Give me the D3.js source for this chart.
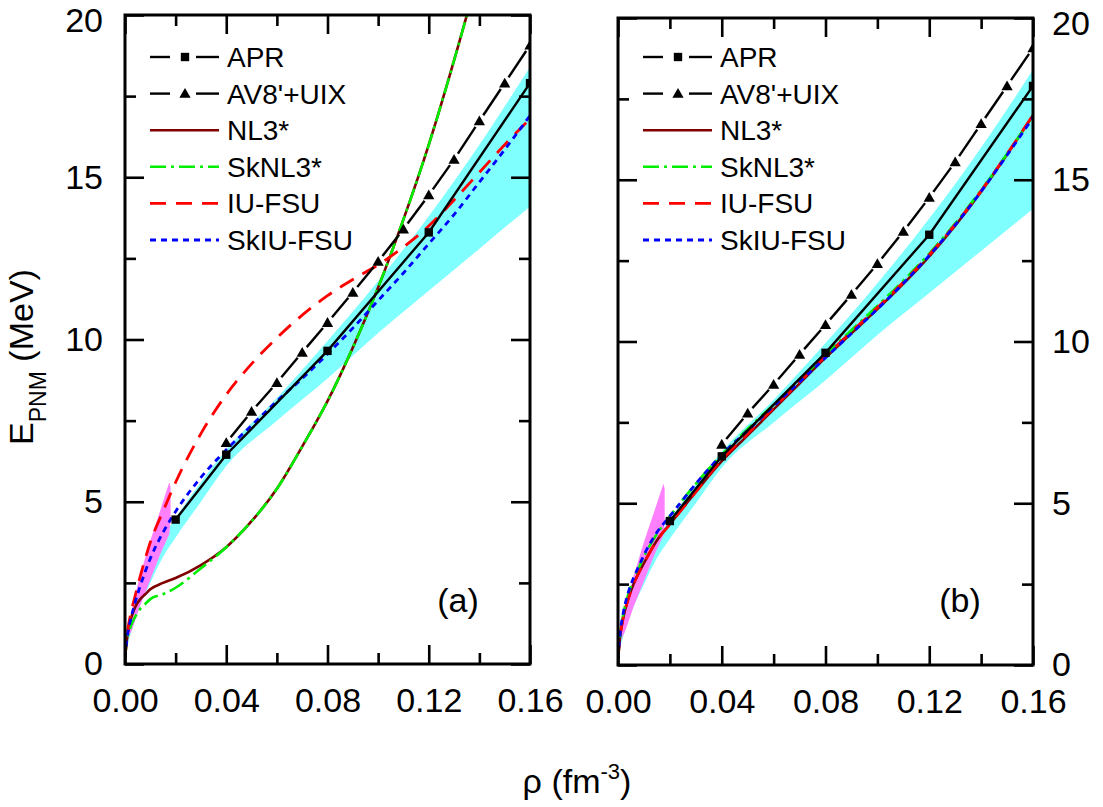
<!DOCTYPE html>
<html>
<head>
<meta charset="utf-8">
<script src="https://cdn.jsdelivr.net/npm/d3@7"></script>
<style>
  body { margin: 0; background: #fff; }
  svg { font-family: Arial, "Liberation Sans", sans-serif; }
</style>
</head>
<body>
<div id="chart"></div>
<script>
// density grid shared by the model curves (fm^-3)
const rho = [0, 0.001, 0.002, 0.004, 0.006, 0.008, 0.01, 0.015, 0.02, 0.03, 0.04,
  0.05, 0.06, 0.07, 0.08, 0.09, 0.1, 0.11, 0.12, 0.13, 0.14, 0.15, 0.16];

// panel (a): original models
const nl3A = [0.2, 0.9, 1.3, 1.75, 2.0, 2.15, 2.3, 2.5, 2.65, 3.05, 3.6,
  4.4, 5.4, 6.7, 8.1, 9.75, 11.6, 13.7, 16.0, 18.6, 21.4, null, null];
const sknl3A = [0.2, 0.8, 1.1, 1.45, 1.7, 1.85, 2.0, 2.15, 2.35, 2.95, 3.6,
  4.4, 5.4, 6.7, 8.1, 9.75, 11.6, 13.7, 16.0, 18.6, 21.4, null, null];
const iufsuA = [0.2, 1.0, 1.45, 2.1, 2.7, 3.25, 3.75, 4.7, 5.6, 7.1, 8.3,
  9.25, 10.05, 10.75, 11.35, 11.85, 12.3, 12.85, 13.5, 14.3, 15.15, 16.0, 16.8];
const skiufsuA = [0.2, 0.9, 1.3, 1.9, 2.4, 2.85, 3.25, 4.05, 4.7, 5.75, 6.6,
  7.35, 8.1, 8.8, 9.55, 10.35, 11.2, 12.05, 12.95, 13.85, 14.85, 15.85, 16.9];

// panel (b): refitted models
const nl3B = [0.2, 1.0, 1.45, 2.05, 2.5, 2.85, 3.15, 3.85, 4.35, 5.35, 6.3,
  7.1, 7.9, 8.7, 9.5, 10.25, 11.0, 11.78, 12.63, 13.58, 14.63, 15.78, 17.0];
const sknl3B = [0.2, 1.05, 1.55, 2.2, 2.65, 3.0, 3.35, 4.05, 4.6, 5.6, 6.5,
  7.3, 8.05, 8.8, 9.6, 10.35, 11.1, 11.88, 12.72, 13.65, 14.68, 15.8, 16.98];
const iufsuB = [0.2, 1.0, 1.45, 2.05, 2.5, 2.85, 3.15, 3.85, 4.35, 5.35, 6.35,
  7.15, 7.95, 8.75, 9.55, 10.3, 11.05, 11.83, 12.68, 13.62, 14.66, 15.8, 17.0];
const skiufsuB = [0.2, 1.1, 1.6, 2.25, 2.7, 3.05, 3.4, 4.1, 4.6, 5.6, 6.5,
  7.25, 8.0, 8.75, 9.5, 10.25, 11.0, 11.8, 12.66, 13.6, 14.64, 15.76, 16.92];

// microscopic calculations
const aprRho = [0.02, 0.04, 0.08, 0.12, 0.16];
const aprE = [4.45, 6.45, 9.65, 13.3, 17.9];
const av8Rho = [0.04, 0.05, 0.06, 0.07, 0.08, 0.09, 0.1, 0.11, 0.12, 0.13, 0.14, 0.15, 0.16];
const av8E = [6.82, 7.78, 8.67, 9.6, 10.52, 11.45, 12.4, 13.4, 14.45, 15.55, 16.73, 17.9, 19.07];

// cyan band
const bandRho = [0.001, 0.005, 0.01, 0.015, 0.02, 0.03, 0.04, 0.06, 0.08, 0.1, 0.12, 0.14, 0.16];
const bandUpper = [0.9, 2.0, 3.1, 3.9, 4.5, 5.6, 6.6, 8.2, 9.95, 11.8, 13.8, 16.0, 18.4];
const bandLower = [0.6, 1.6, 2.5, 3.3, 3.9, 5.0, 6.1, 7.5, 8.8, 10.2, 11.5, 12.8, 14.1];

// magenta band (low density)
const magRho = [0.001, 0.003, 0.006, 0.01, 0.014, 0.0175, 0.018];
const magUpper = [0.85, 1.8, 2.75, 3.8, 4.75, 5.6, 5.45];
const magLower = [0.75, 1.1, 1.8, 2.6, 3.4, 4.0, 4.4];

const xTicks = [0, 0.04, 0.08, 0.12, 0.16];
const xMinor = [0.02, 0.06, 0.1, 0.14];
const yTicks = [0, 5, 10, 15, 20];
const yMinor = [2.5, 7.5, 12.5, 17.5];

const legendNames = ["APR", "AV8'+UIX", "NL3*", "SkNL3*", "IU-FSU", "SkIU-FSU"];

const styles = {
  "NL3*": { color: "#800000", dash: null, width: 2.6 },
  "SkNL3*": { color: "#00ee00", dash: "16,5,3,5", width: 2.6 },
  "IU-FSU": { color: "#ff0000", dash: "16,10", width: 2.8 },
  "SkIU-FSU": { color: "#0000ff", dash: "6,5", width: 2.8 },
};

const panels = [
  { name: "a", left: 125, right: 530, top: 15, bottom: 664, tag: "(a)", tagX: 458, side: "left",
    curves: { "NL3*": nl3A, "SkNL3*": sknl3A, "IU-FSU": iufsuA, "SkIU-FSU": skiufsuA } },
  { name: "b", left: 618, right: 1033, top: 18, bottom: 665, tag: "(b)", tagX: 960, side: "right",
    curves: { "NL3*": nl3B, "SkNL3*": sknl3B, "IU-FSU": iufsuB, "SkIU-FSU": skiufsuB } },
];

const W = 1103, H = 807;
const svg = d3.select("#chart").append("svg").attr("width", W).attr("height", H);

const triangle = d3.symbol().type(d3.symbolTriangle).size(55);
const square = d3.symbol().type(d3.symbolSquare).size(70);

// line broken around each marker, the way the plotting program draws it
drawGapLine = (g, pts, gap) => {
  for (let i = 0; i < pts.length - 1; i++) {
    const [x1, y1] = pts[i], [x2, y2] = pts[i + 1];
    const len = Math.hypot(x2 - x1, y2 - y1);
    const ux = (x2 - x1) / len, uy = (y2 - y1) / len;
    g.append("line")
      .attr("x1", x1 + ux * gap).attr("y1", y1 + uy * gap)
      .attr("x2", x2 - ux * gap).attr("y2", y2 - uy * gap)
      .attr("stroke", "#000").attr("stroke-width", 2.4);
  }
};

panels.forEach((p) => {
  const x = d3.scaleLinear().domain([0, 0.16]).range([p.left, p.right]);
  const y = d3.scaleLinear().domain([0, 20]).range([p.bottom, p.top]);
  const g = svg.append("g");

  g.append("clipPath").attr("id", "clip" + p.name)
    .append("rect").attr("x", p.left).attr("y", p.top)
    .attr("width", p.right - p.left).attr("height", p.bottom - p.top);

  const plot = g.append("g").attr("clip-path", `url(#clip${p.name})`);

  // bands
  const area = d3.area().x((d) => x(d[0])).y0((d) => y(d[1])).y1((d) => y(d[2]))
    .curve(d3.curveMonotoneX);
  plot.append("path")
    .attr("d", area(bandRho.map((r, i) => [r, bandLower[i], bandUpper[i]])))
    .attr("fill", "#80ffff");
  plot.append("path")
    .attr("d", d3.area().x((d) => x(d[0])).y0((d) => y(d[1])).y1((d) => y(d[2]))
      (magRho.map((r, i) => [r, magLower[i], magUpper[i]])))
    .attr("fill", "#ff80ff");

  // model curves
  const line = d3.line().defined((d) => d[1] != null)
    .x((d) => x(d[0])).y((d) => y(d[1])).curve(d3.curveMonotoneX);
  for (const name in p.curves) {
    const s = styles[name];
    plot.append("path")
      .attr("d", line(rho.map((r, i) => [r, p.curves[name][i]])))
      .attr("fill", "none")
      .attr("stroke", s.color)
      .attr("stroke-width", s.width)
      .attr("stroke-dasharray", s.dash);
  }

  // APR: solid line with squares
  plot.append("path")
    .attr("d", d3.line().x((d) => x(d[0])).y((d) => y(d[1]))(aprRho.map((r, i) => [r, aprE[i]])))
    .attr("fill", "none").attr("stroke", "#000").attr("stroke-width", 2.4);
  plot.selectAll(".sq").data(aprRho).join("path")
    .attr("transform", (d, i) => `translate(${x(d)},${y(aprE[i])})`)
    .attr("d", square);

  // AV8'+UIX: gapped line with triangles
  drawGapLine(plot, av8Rho.map((r, i) => [x(r), y(av8E[i])]), 7);
  plot.selectAll(".tri").data(av8Rho).join("path")
    .attr("transform", (d, i) => `translate(${x(d)},${y(av8E[i]) + 1})`)
    .attr("d", triangle);

  // axes: inward ticks on all four sides
  const axes = [
    [d3.axisBottom(x).tickValues(xTicks).tickFormat(d3.format(".2f")), `translate(0,${p.bottom})`, true],
    [d3.axisBottom(x).tickValues(xMinor).tickFormat(""), `translate(0,${p.bottom})`, false],
    [d3.axisTop(x).tickValues(xTicks).tickFormat(""), `translate(0,${p.top})`, true],
    [d3.axisTop(x).tickValues(xMinor).tickFormat(""), `translate(0,${p.top})`, false],
    [d3.axisLeft(y).tickValues(yTicks).tickFormat(p.side == "left" ? (d) => d : ""), `translate(${p.left},0)`, true],
    [d3.axisLeft(y).tickValues(yMinor).tickFormat(""), `translate(${p.left},0)`, false],
    [d3.axisRight(y).tickValues(yTicks).tickFormat(p.side == "right" ? (d) => d : ""), `translate(${p.right},0)`, true],
    [d3.axisRight(y).tickValues(yMinor).tickFormat(""), `translate(${p.right},0)`, false],
  ];
  axes.forEach(([ax, tr, major]) => {
    g.append("g").attr("transform", tr)
      .call(ax.tickSize(major ? -19 : -11).tickSizeOuter(0).tickPadding(major ? 24 : 0))
      .call((a) => a.select(".domain").remove())
      .call((a) => a.selectAll(".tick line").attr("stroke", "#000").attr("stroke-width", 2.6))
      .call((a) => a.selectAll(".tick text").attr("fill", "#000")
        .style("font-size", "34px").style("font-family", "Arial, 'Liberation Sans', sans-serif"));
  });
  // y labels sit a bit closer to the frame; keep the top "20" inside the page
  g.selectAll("text").filter(function () { return this.closest("g.tick") && this.getAttribute("x"); })
    .attr("x", p.side == "left" ? -22 : 19)
    .attr("dy", (d) => (d == 20 ? "0.48em" : "0.32em"));

  g.append("rect")
    .attr("x", p.left).attr("y", p.top)
    .attr("width", p.right - p.left).attr("height", p.bottom - p.top)
    .attr("fill", "none").attr("stroke", "#000").attr("stroke-width", 3);

  // legend
  const lx = p.left + 25;
  const leg = g.append("g");
  legendNames.forEach((name, i) => {
    const ly = 57 + i * 36.6;
    if (i < 2) {
      leg.append("line").attr("x1", lx).attr("x2", lx + 20).attr("y1", ly).attr("y2", ly)
        .attr("stroke", "#000").attr("stroke-width", 2.4);
      leg.append("line").attr("x1", lx + 46).attr("x2", lx + 69).attr("y1", ly).attr("y2", ly)
        .attr("stroke", "#000").attr("stroke-width", 2.4);
      leg.append("path").attr("transform", `translate(${lx + 35},${ly + (i == 1 ? 1 : 0)})`)
        .attr("d", i == 0 ? square : triangle);
    } else {
      const s = styles[name];
      leg.append("line").attr("x1", lx).attr("x2", lx + 69).attr("y1", ly).attr("y2", ly)
        .attr("stroke", s.color).attr("stroke-width", s.width)
        .attr("stroke-dasharray", s.dash);
    }
    leg.append("text").attr("x", lx + 77).attr("y", ly).attr("dy", "0.36em")
      .style("font-size", "28px").text(name);
  });

  g.append("text").attr("x", p.tagX).attr("y", 612).attr("text-anchor", "middle")
    .style("font-size", "34px").text(p.tag);
});

// axis titles
const yl = svg.append("text").attr("transform", "translate(33,357) rotate(-90)")
  .attr("text-anchor", "middle").style("font-size", "34px");
yl.append("tspan").text("E");
yl.append("tspan").attr("dy", 13).style("font-size", "23px").text("PNM");
yl.append("tspan").attr("dy", -13).text(" (MeV)");

const xl = svg.append("text").attr("x", 577).attr("y", 793)
  .attr("text-anchor", "middle").style("font-size", "34px");
xl.append("tspan").text("ρ (fm");
xl.append("tspan").attr("dy", -14).style("font-size", "22px").text("-3");
xl.append("tspan").attr("dy", 14).text(")");
</script>
</body>
</html>
